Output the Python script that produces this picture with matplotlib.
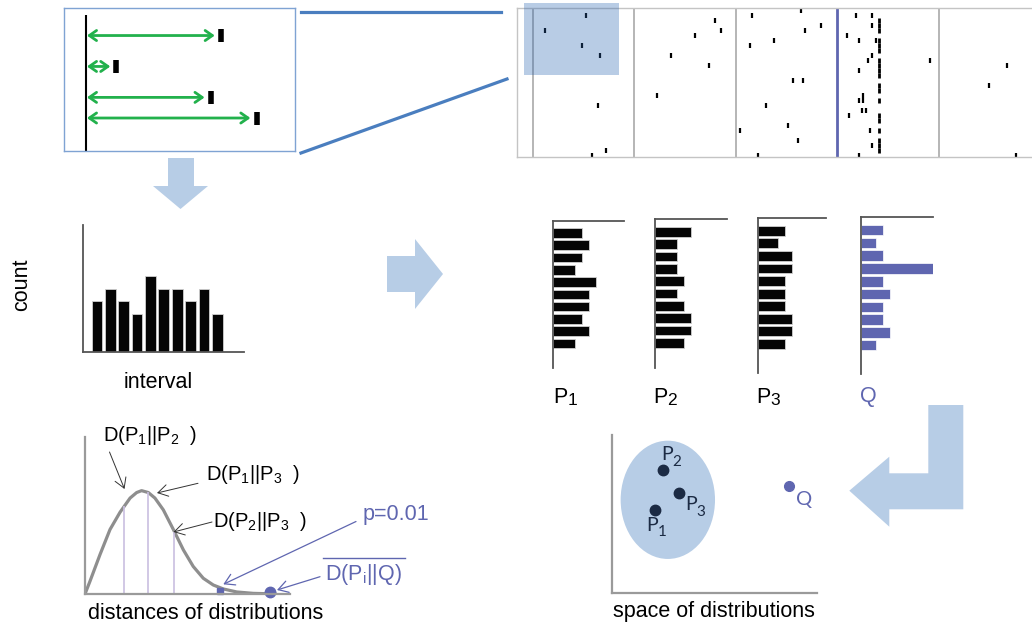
import numpy as np
import matplotlib.pyplot as plt
from matplotlib.patches import Polygon, Ellipse, Rectangle

plt.rcParams['font.family'] = ['Liberation Sans', 'DejaVu Sans']
plt.rcParams['mathtext.fontset'] = 'custom'
plt.rcParams['mathtext.rm'] = 'Liberation Sans'
plt.rcParams['mathtext.it'] = 'Liberation Sans:italic'

W, H = 1032, 625

# spike raster: time (ms) and trial number of each spike
spike_times = [69, 28, 65, 83, 81, 89, 75,
               198, 204, 178, 154, 192, 140,
               284, 235, 304, 288, 257, 233, 276, 286, 249, 271, 223, 281, 241,
               339, 355, 355, 330, 342, 359, 355, 351, 413, 342, 346, 346, 342,
               345, 349, 332, 353, 355, 342,
               490, 472, 499]
spike_trials = [1, 4, 7, 9, 19, 28, 29,
                2, 4, 5, 9, 11, 17,
                0, 1, 3, 4, 6, 7, 14, 14, 19, 23, 24, 26, 29,
                1, 1, 3, 5, 6, 6, 9, 10, 10, 12, 17, 18, 18,
                20, 20, 21, 24, 27, 29,
                11, 15, 29]
# locked response after the test stimulus
locked_time = 362
locked_trials = [2, 3, 4, 6, 7, 8, 10, 11, 12, 13, 15, 16, 18, 21, 22, 24, 26, 27, 28]
stim_onsets = [16, 117, 219, 320, 422]
test_onset = 320

# interval histogram and the distributions built from it
isi_counts = [4, 5, 4, 3, 6, 5, 5, 4, 5, 3]
dist_names = ['1', '2', '3', 'Q']
dist_counts = [[4, 5, 4, 3, 6, 5, 5, 4, 5, 3],
               [5, 3, 3, 3, 4, 3, 4, 5, 5, 4],
               [4, 3, 5, 5, 4, 4, 4, 5, 5, 4],
               [3, 2, 3, 10, 3, 4, 3, 3, 4, 2]]

# null distribution of distances
dist_x = [0.0, 0.24, 0.73, 1.22, 1.71, 2.20, 2.52, 2.76, 3.09, 3.41, 3.82, 4.31,
          4.80, 5.28, 5.77, 6.26, 6.75, 7.40, 8.21, 8.86, 9.30]
dist_y = [0.0, 0.08, 0.25, 0.41, 0.52, 0.61, 0.645, 0.657, 0.645, 0.61, 0.535, 0.41,
          0.28, 0.175, 0.10, 0.057, 0.032, 0.013, 0.004, 0.002, 0.001]
pair_dist = [1.92, 3.06, 4.36]
crit_dist = 6.59
q_dist = 9.02

# embedding of the distributions
space_x = [2.11, 2.48, 3.27]
space_y = [5.24, 7.78, 6.30]
space_sub = ['1', '2', '3']
q_x, q_y = 8.64, 6.77

BLACK_BAR = '#050505'
QBLUE = '#5f66b0'
LIGHT = '#b7cde6'
GREEN = '#22b14c'
FS = 15.5

fig = plt.figure(figsize=(W / 100, H / 100), dpi=100)


def add_ax(left, top, right, bottom):
    ax = fig.add_axes([left / W, 1 - bottom / H, (right - left) / W, (bottom - top) / H])
    ax.patch.set_alpha(0)
    ax.set_xticks([])
    ax.set_yticks([])
    return ax


def style_spines(ax, show, color, lw):
    for name, sp in ax.spines.items():
        sp.set_visible(name in show)
        sp.set_color(color)
        sp.set_linewidth(lw)


# raster of all trials
ras = add_ax(517, 8, 1032, 157)
ras.set_xlim(0, 515)
ras.set_ylim(29.3, -0.55)
tr = np.array(spike_trials)
ras.vlines(spike_times, tr - 0.55, tr + 0.55, color='black', lw=1.6)
lt = np.array(locked_trials)
ras.vlines([locked_time] * len(lt), lt - 0.55, lt + 0.55, color='black', lw=2)
for t in stim_onsets:
    if t == test_onset:
        ras.axvline(t, color=QBLUE, lw=2)
    else:
        ras.axvline(t, color='#b0b0b0', lw=1.3)
style_spines(ras, ['left', 'top', 'bottom'], '#c4c4c4', 1)
ras.add_patch(Rectangle((7, -1.54), 95, 14.4, facecolor='#2a64b0', alpha=0.33,
                        lw=0, clip_on=False, zorder=5))

# enlarged window of the raster with interval arrows
box = add_ax(64, 8, 295, 151)
box.set_xlim(7.4, 98.1)
box.set_ylim(12.2, -1.67)
box.vlines(spike_times, tr - 0.63, tr + 0.63, color='black', lw=4)
box.vlines(stim_onsets[0], -1, 12.2, color='black', lw=1.5)
for t, k in zip(spike_times, spike_trials):
    if k <= 12 and stim_onsets[0] < t < 98:
        box.annotate('', xy=(stim_onsets[0] + 0.4, k), xytext=(t - 2.4, k),
                     arrowprops=dict(arrowstyle='<->, head_length=0.4, head_width=0.28',
                                     color=GREEN, lw=2, mutation_scale=13,
                                     shrinkA=0, shrinkB=0))
style_spines(box, ['left', 'right', 'top', 'bottom'], '#7fa3d3', 1)

# interval histogram
hx = add_ax(83, 225, 244, 352)
hx.bar(np.arange(1, 11) + 0.05, isi_counts, width=0.8, color=BLACK_BAR,
       edgecolor='#cfcfcf', lw=0.6)
hx.set_xlim(0, 12.05)
hx.set_ylim(0, 10)
style_spines(hx, ['left', 'bottom'], '#555555', 1.3)

# sideways histograms P1, P2, P3 and Q
frames = [(553.3, 220.7, 624.3, 368, 12.0),
          (655.3, 219.3, 727.3, 367.7, 12.0),
          (758, 218.3, 825.7, 372.7, 12.3),
          (861.3, 217.3, 933.3, 374, 12.25)]
for (l, t, r, b, yb), counts, name in zip(frames, dist_counts, dist_names):
    ax = add_ax(l, t, r, b)
    if name == 'Q':
        ax.barh(np.arange(1, 11), counts, height=0.82, color=QBLUE, edgecolor='white', lw=0.5)
    else:
        ax.barh(np.arange(1, 11), counts, height=0.79, color=BLACK_BAR,
                edgecolor='#cfcfcf', lw=0.6)
    ax.set_xlim(0, 10)
    ax.set_ylim(yb, 0)
    style_spines(ax, ['left', 'top'], '#555555', 1.3)

# distribution of distances
dx = add_ax(85, 436.7, 290, 594)
dx.set_xlim(0, 10)
dx.set_ylim(0, 1)
dx.plot(dist_x, dist_y, color='#8e8e8e', lw=2.3, solid_capstyle='round',
        solid_joinstyle='round')
dx.vlines(pair_dist, 0, np.interp(pair_dist, dist_x, dist_y), color='#c9bfe0', lw=1.2)
dx.plot(crit_dist, 0.022, 's', color=QBLUE, ms=4, clip_on=False)
dx.plot(q_dist, 0.01, 'o', color=QBLUE, ms=7.5, clip_on=False)
style_spines(dx, ['left', 'bottom'], '#9a9a9a', 1.6)

# space of distributions
sx = add_ax(611.7, 435, 817.3, 592.7)
sx.set_xlim(0, 10)
sx.set_ylim(0, 10)
sx.add_patch(Ellipse((2.73, 5.89), 4.59, 7.50, color=LIGHT, lw=0))
sx.plot(space_x, space_y, 'o', color='#1c2b44', ms=7.5)
sx.plot(q_x, q_y, 'o', color=QBLUE, ms=7)
style_spines(sx, ['left', 'bottom'], '#9a9a9a', 1.6)
p_off = [(-9, -20.7), (-1.7, 10), (6, -16.7)]
for x, y, sub, (ox, oy) in zip(space_x, space_y, space_sub, p_off):
    sx.annotate('P', (x, y), xytext=(ox, oy), textcoords='offset pixels',
                family='Lato', fontsize=14, color='#1c2b44', va='baseline')
    sx.annotate(sub, (x, y), xytext=(ox + 11.5, oy - 5.5), textcoords='offset pixels',
                family='Lato', fontsize=11, color='#1c2b44', va='baseline')
sx.annotate('Q', (q_x, q_y), xytext=(6.7, -19), textcoords='offset pixels',
            family='Lato', fontsize=14.5, color=QBLUE, va='baseline')

# overlay in pixel units for arrows, connectors and labels
ov = fig.add_axes([0, 0, 1, 1])
ov.set_xlim(0, W)
ov.set_ylim(H, 0)
ov.axis('off')
ov.patch.set_alpha(0)
ov.set_zorder(10)

ov.plot([301, 501], [12, 12], color='#4a7ebf', lw=2.3)
ov.plot([301, 507], [153, 79], color='#4a7ebf', lw=2.3)

arrows = [
    [(168, 158), (194, 158), (194, 186), (208, 186), (180.5, 209), (153, 186), (168, 186)],
    [(387, 256), (415, 256), (415, 239), (443, 274), (415, 309), (415, 292), (387, 292)],
    [(963.3, 405), (928.3, 405), (928.3, 473.3), (889.3, 473.3), (889.3, 456.7),
     (849.3, 490.7), (889.3, 526.7), (889.3, 509.3), (963.3, 509.3)],
]
for pts in arrows:
    ov.add_patch(Polygon(pts, closed=True, color=LIGHT, lw=0))

ov.text(22, 285, 'count', rotation=90, fontsize=FS, ha='center', va='center')
ov.text(158, 387.5, 'interval', fontsize=FS, ha='center', va='baseline')
ov.text(88, 619, 'distances of distributions', fontsize=FS, va='baseline')
ov.text(613, 617, 'space of distributions', fontsize=FS, va='baseline')

label_x = [553.3, 653.3, 756, 860]
for x, name in zip(label_x, dist_names):
    if name == 'Q':
        ov.text(x, 402, 'Q', fontsize=FS, color=QBLUE, va='baseline')
    else:
        ov.text(x, 403.3, 'P', fontsize=FS, va='baseline')
        ov.text(x + 14, 405, name, fontsize=12.5, va='baseline')

ov.text(103, 441, 'D(P$_1$||P$_2$  )', fontsize=14.5, va='baseline')
ov.text(206, 480.5, 'D(P$_1$||P$_3$  )', fontsize=14.5, va='baseline')
ov.text(213, 527, 'D(P$_2$||P$_3$  )', fontsize=14.5, va='baseline')
ov.text(363, 520, 'p=0.01', fontsize=FS, color=QBLUE, va='baseline')
ov.text(325, 580, 'D(P$_\\mathrm{i}$||Q)', fontsize=FS, color=QBLUE, va='baseline')
ov.plot([323, 405], [558.3, 558.3], color=QBLUE, lw=1)

black_arrow = dict(arrowstyle='->, head_length=0.5, head_width=0.3', color='#333333',
                   lw=0.7, mutation_scale=14, shrinkA=0, shrinkB=0)
ov.annotate('', xy=(124.5, 489), xytext=(109.5, 452), arrowprops=black_arrow)
ov.annotate('', xy=(157, 493), xytext=(198, 483.3), arrowprops=black_arrow)
ov.annotate('', xy=(173.5, 532), xytext=(212, 522), arrowprops=black_arrow)
blue_arrow = dict(black_arrow, color=QBLUE, lw=0.9)
ov.annotate('', xy=(223.3, 584.3), xytext=(356, 521.5), arrowprops=blue_arrow)
ov.annotate('', xy=(277, 590), xytext=(320, 576.7), arrowprops=blue_arrow)

fig.savefig('out.png', dpi=100)
